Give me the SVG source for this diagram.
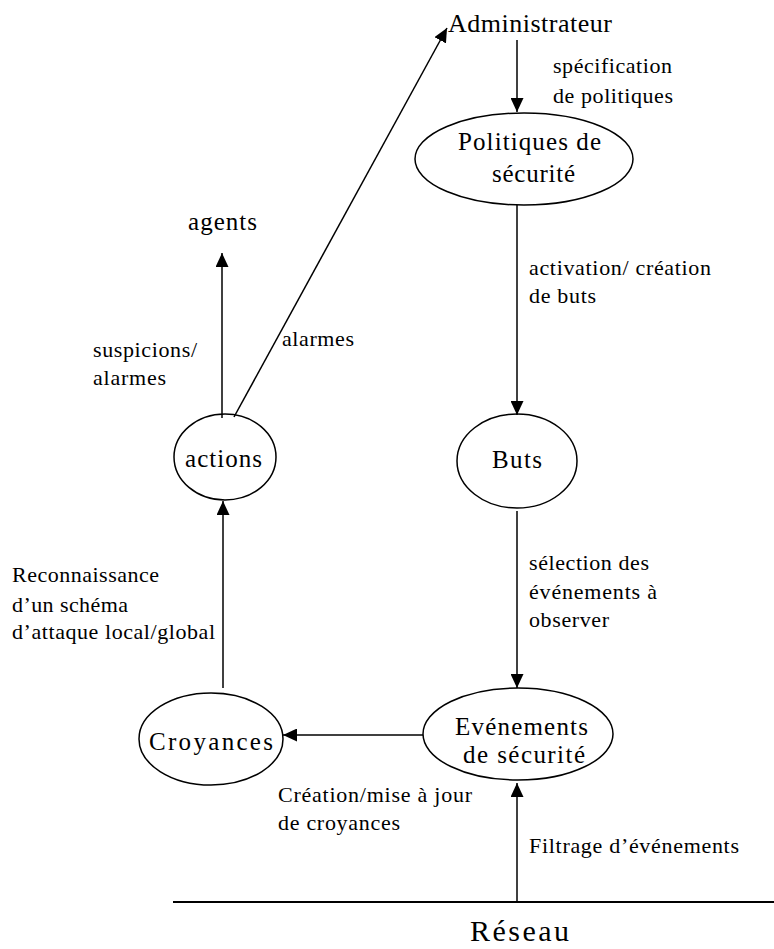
<svg xmlns="http://www.w3.org/2000/svg" width="774" height="949" viewBox="0 0 774 949" font-family="Liberation Serif, Times New Roman, serif">
  <style>
    .node { fill: none; stroke: #000; stroke-width: 1.5; }
    .edge { fill: none; stroke: #000; stroke-width: 1.5; }
  </style>
  <defs>
    <marker id="arrow" markerUnits="userSpaceOnUse" markerWidth="14" markerHeight="13" refX="14" refY="6.5" orient="auto">
      <path d="M0,0 L14,6.5 L0,13 z" fill="#000"/>
    </marker>
  </defs>

  <rect width="774" height="949" fill="#fff"/>

  <!-- connectors -->
  <g id="connectors">
    <line class="edge" x1="517" y1="40" x2="517" y2="112" marker-end="url(#arrow)"/>
    <line class="edge" x1="517" y1="205" x2="517" y2="415" marker-end="url(#arrow)"/>
    <line class="edge" x1="517" y1="511" x2="517" y2="688" marker-end="url(#arrow)"/>
    <line class="edge" x1="423" y1="735" x2="283" y2="735" marker-end="url(#arrow)"/>
    <line class="edge" x1="223" y1="688" x2="223" y2="501" marker-end="url(#arrow)"/>
    <line class="edge" x1="222" y1="418" x2="222" y2="253" marker-end="url(#arrow)"/>
    <line class="edge" x1="234" y1="417" x2="447" y2="28" marker-end="url(#arrow)"/>
    <line class="edge" x1="517" y1="902" x2="517" y2="783" marker-end="url(#arrow)"/>
    <!-- network bus -->
    <line x1="173" y1="902" x2="774" y2="902" stroke="#000" stroke-width="2"/>
  </g>

  <!-- edge labels -->
  <g id="labels" font-family="Liberation Serif, Times New Roman, serif" font-size="22" fill="#000">
    <text x="553" y="73" textLength="119" lengthAdjust="spacing">spécification</text>
    <text x="553" y="103" textLength="120" lengthAdjust="spacing">de politiques</text>
    <text x="529" y="275" textLength="182" lengthAdjust="spacing">activation/ création</text>
    <text x="529" y="303" textLength="67" lengthAdjust="spacing">de buts</text>
    <text x="282" y="346" textLength="72" lengthAdjust="spacing">alarmes</text>
    <text x="93" y="357" textLength="104" lengthAdjust="spacing">suspicions/</text>
    <text x="93" y="385" textLength="73" lengthAdjust="spacing">alarmes</text>
    <text x="529" y="570" textLength="120" lengthAdjust="spacing">sélection des</text>
    <text x="529" y="599" textLength="128" lengthAdjust="spacing">événements à</text>
    <text x="529" y="627" textLength="80" lengthAdjust="spacing">observer</text>
    <text x="12" y="582" textLength="147" lengthAdjust="spacing">Reconnaissance</text>
    <text x="12" y="612" textLength="116" lengthAdjust="spacing">d’un schéma</text>
    <text x="12" y="639" textLength="203" lengthAdjust="spacing">d’attaque local/global</text>
    <text x="278" y="802" textLength="194" lengthAdjust="spacing">Création/mise à jour</text>
    <text x="278" y="830" textLength="122" lengthAdjust="spacing">de croyances</text>
    <text x="529" y="853" textLength="210" lengthAdjust="spacing">Filtrage d’événements</text>
  </g>

  <!-- nodes -->
  <g id="administrateur" font-family="Liberation Serif, Times New Roman, serif" font-size="26">
    <text x="448" y="32" textLength="164" lengthAdjust="spacing">Administrateur</text>
  </g>
  <g id="agents" font-family="Liberation Serif, Times New Roman, serif" font-size="25">
    <text x="188" y="230" textLength="69" lengthAdjust="spacing">agents</text>
  </g>
  <g id="politiques" font-family="Liberation Serif, Times New Roman, serif" font-size="25">
    <ellipse class="node" cx="524" cy="159" rx="109" ry="46"/>
    <text x="458" y="150" textLength="143" lengthAdjust="spacing">Politiques de</text>
    <text x="492" y="182" textLength="83" lengthAdjust="spacing">sécurité</text>
  </g>
  <g id="buts" font-family="Liberation Serif, Times New Roman, serif" font-size="25">
    <ellipse class="node" cx="517" cy="461" rx="60" ry="47"/>
    <text x="492" y="468" textLength="50" lengthAdjust="spacing">Buts</text>
  </g>
  <g id="actions" font-family="Liberation Serif, Times New Roman, serif" font-size="25">
    <ellipse class="node" cx="225" cy="457" rx="51" ry="43"/>
    <text x="185" y="467" textLength="77" lengthAdjust="spacing">actions</text>
  </g>
  <g id="evenements" font-family="Liberation Serif, Times New Roman, serif" font-size="25">
    <ellipse class="node" cx="518" cy="734" rx="95" ry="46"/>
    <text x="455" y="735" textLength="133" lengthAdjust="spacing">Evénements</text>
    <text x="463" y="763" textLength="122" lengthAdjust="spacing">de sécurité</text>
  </g>
  <g id="croyances" font-family="Liberation Serif, Times New Roman, serif" font-size="25">
    <ellipse class="node" cx="211" cy="739" rx="72" ry="46"/>
    <text x="149" y="750" textLength="124" lengthAdjust="spacing">Croyances</text>
  </g>
  <g id="reseau" font-family="Liberation Serif, Times New Roman, serif" font-size="30">
    <text x="470" y="941" textLength="99" lengthAdjust="spacing">Réseau</text>
  </g>
</svg>
